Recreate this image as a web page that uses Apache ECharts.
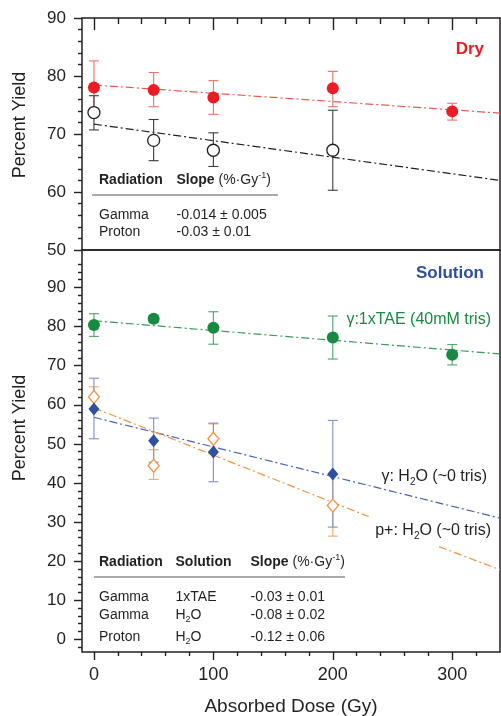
<!DOCTYPE html>
<html>
<head>
<meta charset="utf-8">
<script src="https://cdn.jsdelivr.net/npm/echarts@6/dist/echarts.min.js"></script>
<style>
  html, body { margin: 0; padding: 0; background: #fff; }
  #chart { width: 501px; height: 716px; }
</style>
</head>
<body>
<div id="chart"></div>
<script>
// 坐标刻度
const xMajorTicks = [0, 100, 200, 300];
const xMinorTicks = [20, 40, 60, 80, 120, 140, 160, 180, 220, 240, 260, 280, 320];
const yBottomMajor = [0, 10, 20, 30, 40, 50, 60, 70, 80, 90];
const yBottomMinor = [-2, 2, 4, 6, 8, 12, 14, 16, 18, 22, 24, 26, 28, 32, 34, 36, 38, 42, 44, 46, 48,
    52, 54, 56, 58, 62, 64, 66, 68, 72, 74, 76, 78, 82, 84, 86, 88, 92, 94, 96, 98];

// Dry - Gamma (红色实心圆)
const dryGammaDose = [0, 50, 100, 200, 300];
const dryGammaYield = [78.0, 77.6, 76.3, 77.9, 73.9];
const dryGammaHigh = [82.6, 80.6, 79.2, 80.8, 75.3];
const dryGammaLow = [73.4, 74.7, 73.4, 74.7, 72.4];
const dryGammaFit = [[0, 78.45], [340, 73.6]];

// Dry - Proton (黑色空心圆)
const dryProtonDose = [0, 50, 100, 200];
const dryProtonYield = [73.7, 68.9, 67.2, 67.2];
const dryProtonHigh = [76.6, 72.5, 70.2, 74.1];
const dryProtonLow = [70.7, 65.4, 64.4, 60.3];
const dryProtonFit = [[0, 71.7], [340, 62.0]];

// Solution - Gamma 1xTAE (绿色)
const taeDose = [0, 50, 100, 200, 300];
const taeYield = [80.4, 82.0, 79.7, 77.2, 72.8];
const taeHigh = [83.3, 82.8, 83.8, 82.7, 75.4];
const taeLow = [77.5, 81.0, 75.5, 71.7, 70.2];
const taeFit = [[0, 81.5], [340, 73.0]];

// Solution - Gamma H2O (蓝色实心菱形)
const gammaH2oDose = [0, 50, 100, 200];
const gammaH2oYield = [58.9, 50.8, 47.9, 42.3];
const gammaH2oHigh = [66.8, 56.6, 55.3, 56.0];
const gammaH2oLow = [51.3, 45.3, 40.3, 28.7];
const gammaH2oFit = [[0, 56.8], [340, 31.0]];

// Solution - Proton H2O (橙色空心菱形)
const protonH2oDose = [0, 50, 100, 200];
const protonH2oYield = [62.0, 44.4, 51.3, 34.2];
const protonH2oHigh = [64.6, 48.5, 55.1, 42.0];
const protonH2oLow = [59.0, 40.9, 47.8, 26.4];
const protonH2oFitA = [[0, 59.2], [230, 31.4]];
const protonH2oFitB = [[289, 23.7], [340, 17.8]];

// 表格文字
const dryTableRows = [['Gamma', '-0.014 ± 0.005'], ['Proton', '-0.03 ± 0.01']];
const solTableRows = [
    ['Gamma', '1xTAE', '-0.03 ± 0.01'],
    ['Gamma', 'H{sub|2}O', '-0.08 ± 0.02'],
    ['Proton', 'H{sub|2}O', '-0.12 ± 0.06']
];

const FONT = "'Liberation Sans', Arial, sans-serif";
const INK = '#231f20';

const RED = '#ed1c24', RED_BAR = '#f26f63';
const GREEN = '#178a42', GREEN_BAR = '#4fa36a';
const BLUE = '#2f4f9f', BLUE_BAR = '#7f8ec8';
const ORANGE = '#f7923a', ORANGE_BAR = '#f8a868';

function pts(xs, ys) {
    return xs.map((x, i) => [x, ys[i]]);
}

function errorSeries(xs, lo, hi, color, xi, yi) {
    return {
        type: 'custom',
        xAxisIndex: xi,
        yAxisIndex: yi,
        silent: true,
        z: 2,
        encode: { x: 0, y: [1, 2] },
        data: xs.map((x, i) => [x, lo[i], hi[i]]),
        renderItem: (params, api) => {
            const x = api.value(0);
            const a = api.coord([x, api.value(1)]);
            const b = api.coord([x, api.value(2)]);
            const w = 5;
            const st = { stroke: color, lineWidth: 1.1 };
            return {
                type: 'group',
                children: [
                    { type: 'line', shape: { x1: a[0], y1: a[1], x2: b[0], y2: b[1] }, style: st },
                    { type: 'line', shape: { x1: a[0] - w, y1: a[1], x2: a[0] + w, y2: a[1] }, style: st },
                    { type: 'line', shape: { x1: b[0] - w, y1: b[1], x2: b[0] + w, y2: b[1] }, style: st }
                ]
            };
        }
    };
}

function fitSeries(data, color, xi, yi) {
    return {
        type: 'line',
        xAxisIndex: xi,
        yAxisIndex: yi,
        data: data,
        symbol: 'none',
        silent: true,
        z: 1,
        lineStyle: { color: color, width: 1.2, type: [8, 3, 2, 3] }
    };
}

function markerSeries(data, symbol, size, fill, stroke, xi, yi) {
    return {
        type: 'scatter',
        xAxisIndex: xi,
        yAxisIndex: yi,
        data: data,
        symbol: symbol,
        symbolSize: size,
        z: 3,
        itemStyle: { color: fill, borderColor: stroke, borderWidth: stroke ? 1.3 : 0, opacity: 1 }
    };
}

const tickStyle = { color: INK, width: 1.4 };
const noLine = { show: false, onZero: false };
// 只要刻度的轴：标签推到画布外面（隐藏标签时刻度也不画）
const ghostLabel = (values) => ({ show: true, customValues: values, color: INK, fontSize: 10, margin: 160 });

function xAxisDef(grid, pos, values, len, inside, labels) {
    return {
        type: 'value', gridIndex: grid, position: pos, min: -10, max: 340,
        axisLine: noLine,
        splitLine: { show: false },
        axisTick: { show: true, inside: inside, length: len, customValues: values, lineStyle: tickStyle },
        axisLabel: labels
            ? { show: true, customValues: values, color: INK, fontSize: 18, fontFamily: FONT, margin: 14 }
            : ghostLabel(values)
    };
}

const textBase = { fontFamily: FONT, fontSize: 14, fill: INK, textVerticalAlign: 'middle' };

function txt(x, y, text, extra, rot) {
    return {
        type: 'text', x: x, y: y, rotation: rot || 0, silent: true,
        style: Object.assign({}, textBase, { text: text }, extra || {})
    };
}

const richStyles = {
    b: { fontWeight: 'bold', fontSize: 14, fontFamily: FONT, lineHeight: 18 },
    n: { fontSize: 14, fontFamily: FONT, lineHeight: 18 },
    sup: { fontSize: 9, fontFamily: FONT, verticalAlign: 'top', lineHeight: 9 },
    sub: { fontSize: 9, fontFamily: FONT, verticalAlign: 'bottom', lineHeight: 9 }
};

function richTxt(x, y, text, extra) {
    return txt(x, y, text, Object.assign({ rich: richStyles }, extra || {}));
}

const slopeHeader = '{b|Slope}{n| (%·Gy}{sup|-1}{n|)}';

const graphics = [
    // 轴标题
    txt(20, 125, 'Percent Yield', { fontSize: 18, textAlign: 'center' }, Math.PI / 2),
    txt(20, 428, 'Percent Yield', { fontSize: 18, textAlign: 'center' }, Math.PI / 2),
    // 面板标签
    txt(484, 49, 'Dry', { fontSize: 17, fontWeight: 'bold', fill: RED, textAlign: 'right' }),
    txt(484, 273, 'Solution', { fontSize: 17, fontWeight: 'bold', fill: BLUE, textAlign: 'right' }),
    txt(491, 320, 'γ:1xTAE (40mM tris)', { fontSize: 16, fill: GREEN, textAlign: 'right' }),
    richTxt(487, 477, '{l|γ: H}{s|2}{l|O (~0 tris)}', {
        textAlign: 'right', rich: {
            l: { fontSize: 16, fontFamily: FONT, color: '#3d56a6', lineHeight: 20 },
            s: { fontSize: 10, fontFamily: FONT, color: '#3d56a6', verticalAlign: 'bottom', lineHeight: 10 }
        }
    }),
    richTxt(491, 531, '{l|p+: H}{s|2}{l|O (~0 tris)}', {
        textAlign: 'right', rich: {
            l: { fontSize: 16, fontFamily: FONT, color: ORANGE, lineHeight: 20 },
            s: { fontSize: 10, fontFamily: FONT, color: ORANGE, verticalAlign: 'bottom', lineHeight: 10 }
        }
    }),
    // Dry 表格
    txt(99, 180, 'Radiation', { fontWeight: 'bold' }),
    richTxt(176.5, 180, slopeHeader),
    { type: 'line', silent: true, shape: { x1: 92, y1: 195, x2: 278, y2: 195 }, style: { stroke: '#555', lineWidth: 1 } },
    // Solution 表格
    txt(99, 562, 'Radiation', { fontWeight: 'bold' }),
    txt(175.5, 562, 'Solution', { fontWeight: 'bold' }),
    richTxt(250.5, 562, slopeHeader),
    { type: 'line', silent: true, shape: { x1: 94, y1: 577, x2: 345, y2: 577 }, style: { stroke: '#555', lineWidth: 1 } }
];

const dryRowY = [215, 232];
dryTableRows.forEach((r, i) => {
    graphics.push(txt(99, dryRowY[i], r[0]));
    graphics.push(txt(176.5, dryRowY[i], r[1]));
});
const solRowY = [597, 615, 637];
solTableRows.forEach((r, i) => {
    graphics.push(txt(99, solRowY[i], r[0]));
    graphics.push(richTxt(175.5, solRowY[i], '{n|' + r[1].replace('{sub|2}', '}{sub|2}{n|') + '}'));
    graphics.push(txt(250.5, solRowY[i], r[2]));
});

const gridBase = {
    left: 82, width: 418, show: true, borderColor: INK, borderWidth: 1.5,
    backgroundColor: 'transparent', containLabel: false, outerBoundsMode: 'none'
};

const chart = echarts.init(document.getElementById('chart'));
chart.setOption({
    animation: false,
    backgroundColor: '#fff',
    textStyle: { fontFamily: FONT },
    grid: [
        Object.assign({ top: 18, height: 232 }, gridBase),
        Object.assign({ top: 250, height: 402 }, gridBase)
    ],
    xAxis: [
        xAxisDef(0, 'top', xMajorTicks, 12, true, false),
        xAxisDef(0, 'top', xMinorTicks, 6, true, false),
        Object.assign(xAxisDef(1, 'bottom', xMajorTicks, 8, false, true), {
            name: 'Absorbed Dose (Gy)', nameLocation: 'middle', nameGap: 45,
            nameTextStyle: { fontSize: 19, color: INK, fontFamily: FONT }
        }),
        xAxisDef(1, 'bottom', xMinorTicks, 4, false, false)
    ],
    yAxis: [
        {
            type: 'value', gridIndex: 0, position: 'left', min: 50, max: 90, interval: 10,
            axisLine: noLine, splitLine: { show: false },
            axisTick: { show: true, length: 8, lineStyle: tickStyle },
            minorTick: { show: true, splitNumber: 5, length: 4, lineStyle: tickStyle },
            axisLabel: { color: INK, fontSize: 17, fontFamily: FONT, margin: 16 }
        },
        {
            type: 'value', gridIndex: 1, position: 'left', min: -3.25, max: 99.6,
            axisLine: noLine, splitLine: { show: false },
            axisTick: { show: true, length: 8, customValues: yBottomMajor, lineStyle: tickStyle },
            axisLabel: { customValues: yBottomMajor, color: INK, fontSize: 17, fontFamily: FONT, margin: 16 }
        },
        {
            type: 'value', gridIndex: 1, position: 'left', min: -3.25, max: 99.6,
            axisLine: noLine, splitLine: { show: false },
            axisTick: { show: true, length: 4, customValues: yBottomMinor, lineStyle: tickStyle },
            axisLabel: ghostLabel(yBottomMinor)
        }
    ],
    graphic: graphics,
    series: [
        // Dry
        fitSeries(dryGammaFit, '#f0574c', 0, 0),
        fitSeries(dryProtonFit, INK, 0, 0),
        errorSeries(dryGammaDose, dryGammaLow, dryGammaHigh, RED_BAR, 0, 0),
        errorSeries(dryProtonDose, dryProtonLow, dryProtonHigh, '#3a3a3a', 0, 0),
        markerSeries(pts(dryGammaDose, dryGammaYield), 'circle', 12, RED, null, 0, 0),
        markerSeries(pts(dryProtonDose, dryProtonYield), 'circle', 12, '#fff', INK, 0, 0),
        // Solution
        fitSeries(taeFit, '#3a9a5a', 2, 1),
        fitSeries(gammaH2oFit, '#4a62b4', 2, 1),
        fitSeries(protonH2oFitA, ORANGE, 2, 1),
        fitSeries(protonH2oFitB, ORANGE, 2, 1),
        errorSeries(taeDose, taeLow, taeHigh, GREEN_BAR, 2, 1),
        errorSeries(protonH2oDose, protonH2oLow, protonH2oHigh, ORANGE_BAR, 2, 1),
        errorSeries(gammaH2oDose, gammaH2oLow, gammaH2oHigh, BLUE_BAR, 2, 1),
        markerSeries(pts(taeDose, taeYield), 'circle', 12, GREEN, null, 2, 1),
        markerSeries(pts(protonH2oDose, protonH2oYield), 'diamond', [11, 13], '#fff', ORANGE, 2, 1),
        markerSeries(pts(gammaH2oDose, gammaH2oYield), 'diamond', [11, 13], BLUE, null, 2, 1)
    ]
});
</script>
</body>
</html>
